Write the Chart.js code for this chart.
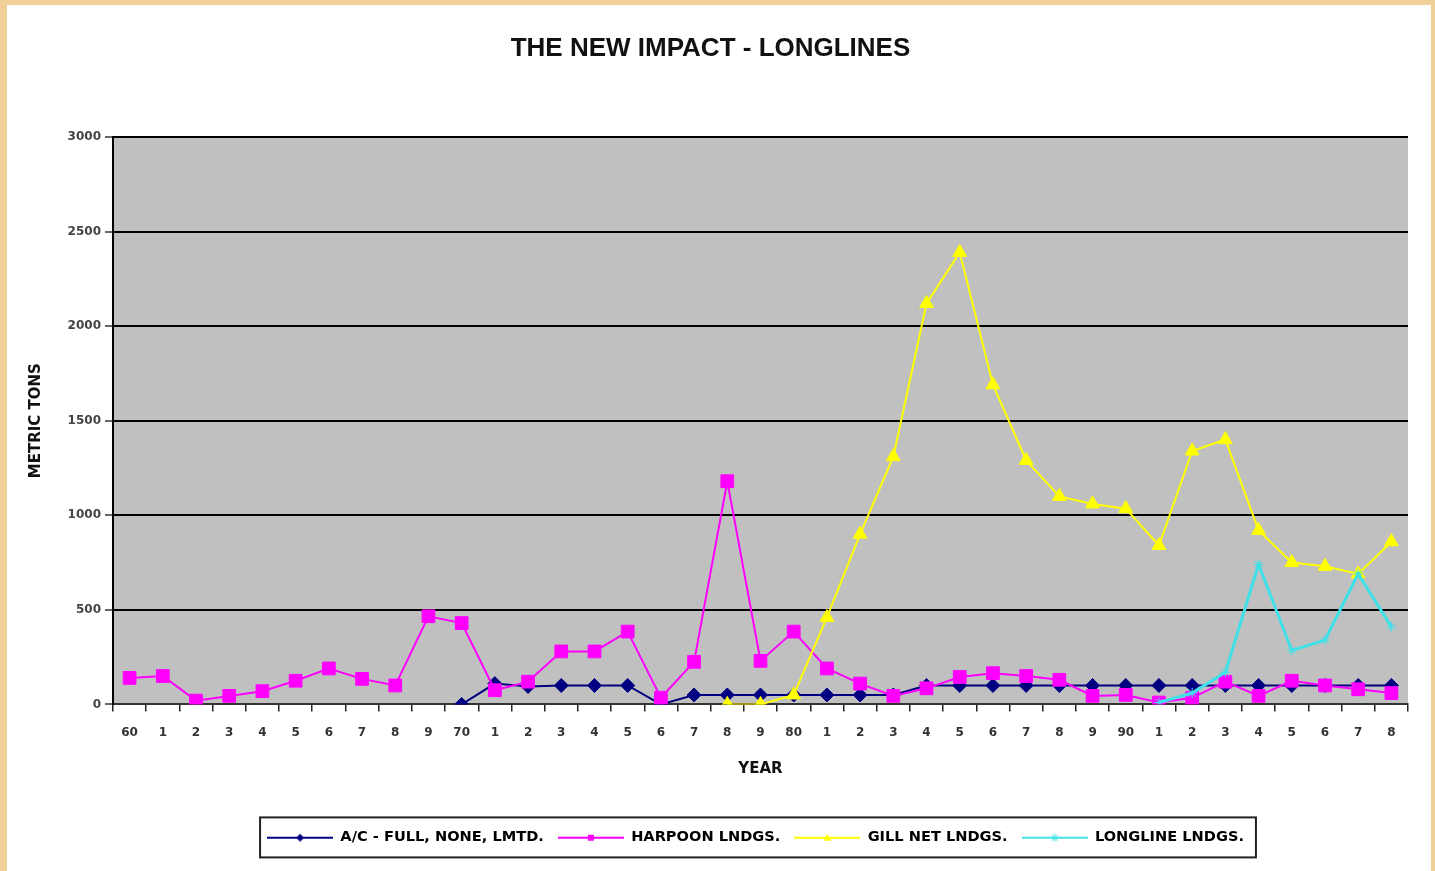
<!DOCTYPE html>
<html>
<head>
<meta charset="utf-8">
<script src="https://cdn.jsdelivr.net/npm/chart.js@4.4.1/dist/chart.umd.min.js"></script>
<style>
  html, body { margin: 0; padding: 0; }
  body { background: #f0cf98; width: 1435px; height: 871px; overflow: hidden; }
  #frame { position: absolute; left: 7px; top: 5px; width: 1424px; height: 866px; background: #fff; }
</style>
</head>
<body>
<div id="frame"><canvas id="myChart" width="1424" height="866"></canvas></div>
<script>
// years 1960 - 1998, labelled the way the sheet does it
const years = ['60','1','2','3','4','5','6','7','8','9',
  '70','1','2','3','4','5','6','7','8','9',
  '80','1','2','3','4','5','6','7','8','9',
  '90','1','2','3','4','5','6','7','8'];

const acFull = [null,null,null,null,null,null,null,null,null,null,
  0,110,95,100,100,100,0,50,50,50,
  50,50,50,50,100,100,100,100,100,100,
  100,100,100,100,100,100,100,100,100];

const harpoon = [140,150,20,45,70,125,190,135,100,466,
  430,75,120,280,280,385,35,225,1180,230,
  385,190,110,45,85,145,165,150,130,45,
  50,10,35,120,45,125,100,80,60];

const gillNet = [null,null,null,null,null,null,null,null,null,null,
  null,null,null,null,null,null,null,null,0,0,
  50,460,900,1310,2120,2390,1690,1290,1100,1060,
  1035,840,1340,1400,920,750,730,690,860];

const longline = [null,null,null,null,null,null,null,null,null,null,
  null,null,null,null,null,null,null,null,null,null,
  null,null,null,null,null,null,null,null,null,null,
  null,10,60,170,740,285,340,690,410];

const seriesNames = ['A/C - FULL, NONE, LMTD.', 'HARPOON LNDGS.', 'GILL NET LNDGS.', 'LONGLINE LNDGS.'];
const seriesColors = ['#000080', '#ff00ff', '#ffff00', '#40e0e8'];
const seriesMarkers = ['rectRot', 'rect', 'triangle', 'star'];

Chart.defaults.font.family = "'DejaVu Sans', sans-serif";
Chart.defaults.font.weight = 'bold';

// little line+marker pictures for the legend, like excel does
function legendPic(color, marker) {
  const c = document.createElement('canvas');
  c.width = 66; c.height = 14;
  const g = c.getContext('2d');
  g.strokeStyle = color; g.fillStyle = color; g.lineWidth = 2;
  g.beginPath(); g.moveTo(0, 7); g.lineTo(66, 7); g.stroke();
  g.beginPath();
  if (marker === 'rectRot') { g.moveTo(33, 3); g.lineTo(37, 7); g.lineTo(33, 11); g.lineTo(29, 7); g.closePath(); g.fill(); }
  else if (marker === 'rect') { g.fillRect(30, 4, 6, 6); }
  else if (marker === 'triangle') { g.moveTo(33, 3); g.lineTo(37, 10); g.lineTo(29, 10); g.closePath(); g.fill(); }
  else { g.lineWidth = 1; g.moveTo(30, 4); g.lineTo(36, 10); g.moveTo(36, 4); g.lineTo(30, 10); g.moveTo(33, 3); g.lineTo(33, 11); g.stroke(); }
  return c;
}
const legendPics = seriesColors.map((c, i) => legendPic(c, seriesMarkers[i]));

const plotBackground = {
  id: 'plotBackground',
  beforeDraw(chart) {
    const a = chart.chartArea, ctx = chart.ctx;
    ctx.save();
    ctx.fillStyle = '#c0c0c0';
    ctx.fillRect(a.left, a.top, a.right - a.left, a.bottom - a.top);
    ctx.restore();
  }
};

const legendFrame = {
  id: 'legendFrame',
  afterLayout(chart) {
    chart.legend.left += 45;
    chart.legend.right += 45;
  },
  afterDraw(chart) {
    const lg = chart.legend, pad = 14;
    const start = (lg.left + pad + lg.right - lg.lineWidths[0]) / 2;
    const x0 = start - 7, x1 = start + lg.lineWidths[0] - pad + 12;
    const cy = lg.top + pad + 7;
    const ctx = chart.ctx;
    ctx.save();
    ctx.strokeStyle = '#222';
    ctx.lineWidth = 2;
    ctx.strokeRect(x0, cy - 20, x1 - x0, 40);
    ctx.restore();
  }
};

function makeSet(i, data, width, radius) {
  return {
    label: seriesNames[i],
    data: data,
    borderColor: seriesColors[i],
    backgroundColor: seriesColors[i],
    borderWidth: width,
    pointStyle: seriesMarkers[i],
    pointRadius: radius,
    pointBorderWidth: 1,
    pointBorderColor: seriesColors[i],
    pointBackgroundColor: seriesColors[i],
    tension: 0,
    spanGaps: false,
    order: 4 - i
  };
}

var myChart = new Chart('myChart', {
  type: 'line',
  data: {
    labels: years,
    datasets: [
      makeSet(0, acFull, 2, 7),
      makeSet(1, harpoon, 2, 9),
      makeSet(2, gillNet, 2, 8),
      makeSet(3, longline, 3, 5)
    ]
  },
  plugins: [plotBackground, legendFrame],
  options: {
    responsive: false,
    animation: false,
    layout: { padding: { left: 6, right: 23, top: 0, bottom: 16 } },
    plugins: {
      tooltip: { enabled: false },
      title: {
        display: true,
        text: 'THE NEW IMPACT - LONGLINES',
        color: '#111',
        font: { family: "'Liberation Sans', Arial, sans-serif", size: 26, weight: 'bold', lineHeight: 1.2 },
        padding: { top: 28.4, bottom: 72.4 }
      },
      legend: {
        position: 'bottom',
        labels: {
          color: '#222',
          font: { size: 14.6, weight: 'bold' },
          padding: 14,
          usePointStyle: true,
          pointStyleWidth: 66,
          generateLabels: (chart) => seriesNames.map((name, i) => ({
            text: name,
            fillStyle: seriesColors[i],
            strokeStyle: seriesColors[i],
            lineWidth: 0,
            pointStyle: legendPics[i],
            datasetIndex: i,
            hidden: false
          }))
        }
      }
    },
    scales: {
      x: {
        offset: true,
        afterFit: (s) => { s.height = 112; },
        grid: { offset: true, drawOnChartArea: false, color: '#222', lineWidth: 1.5, tickLength: 7 },
        border: { color: '#333', width: 2 },
        ticks: { color: '#333', font: { size: 12, weight: 'bold' }, padding: 14, autoSkip: false, maxRotation: 0 },
        title: { display: true, text: 'YEAR', color: '#111', font: { size: 15, weight: 'bold', lineHeight: 1.2 }, padding: { top: 0, bottom: 38 } }
      },
      y: {
        min: 0,
        max: 3000,
        afterFit: (s) => { s.width = 100; },
        grid: { color: '#000', lineWidth: 2, tickLength: 8, tickColor: '#333', tickWidth: 1.5 },
        border: { color: '#000', width: 2 },
        ticks: { stepSize: 500, color: '#444', font: { size: 12, weight: 'bold' }, padding: 4, callback: (v) => String(v) },
        title: { display: true, text: 'METRIC TONS', color: '#111', font: { size: 15, weight: 'bold', lineHeight: 1.2 }, padding: { top: 14.6, bottom: 0 } }
      }
    }
  }
});
</script>
</body>
</html>
